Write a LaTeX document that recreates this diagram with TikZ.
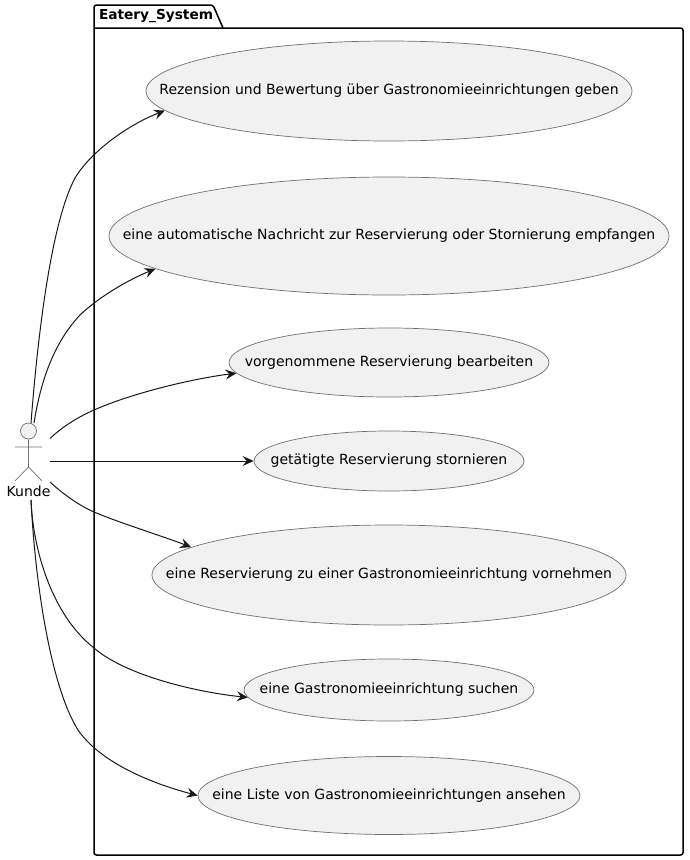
\documentclass[tikz,border=0pt]{standalone}
\usepackage{fontspec}
\setmainfont{DejaVu Sans}
\usetikzlibrary{shapes.geometric,arrows.meta}
\definecolor{umlfill}{HTML}{F1F1F1}
\definecolor{umlline}{HTML}{181818}
\definecolor{umlthin}{HTML}{707070}
\tikzset{
  usecase/.style={ellipse,draw=umlthin,fill=umlfill,line width=0.7pt,inner sep=0pt,font=\fontsize{14}{16}\selectfont,text=black},
  link/.style={draw=umlline,line width=1pt,-{Stealth[length=11pt,width=10pt,inset=4pt]}},
  pkg/.style={draw=black,line width=1.5pt,line join=round},
  stick/.style={draw=umlthin,line width=0.7pt}
}
\newcommand{\ucname}[1]{\makebox[0pt]{#1}}
\begin{document}
\begin{tikzpicture}[x=1pt,y=-1pt]
\useasboundingbox (0,0) rectangle (689,860);
\draw[pkg,rounded corners=2.5pt] (94,28) -- (94,5) -- (213,5) -- (223,28) (94,28) -- (94,855) -- (683,855) -- (683,28) -- (94,28);
\node[anchor=west,font=\fontsize{13.7}{16}\selectfont\bfseries] (pk) at (95.5,16.5) {Eatery\_System};
\node[usecase,minimum width=486pt,minimum height=100pt] (e1) at (389,91) {\ucname{Rezension und Bewertung über Gastronomieeinrichtungen geben}};
\node[usecase,minimum width=560pt,minimum height=118pt] (e2) at (389,236) {\ucname{eine automatische Nachricht zur Reservierung oder Stornierung empfangen}};
\node[usecase,minimum width=320pt,minimum height=69pt] (e3) at (389,362.5) {\ucname{vorgenommene Reservierung bearbeiten}};
\node[usecase,minimum width=270pt,minimum height=60pt] (e4) at (389,461) {\ucname{getätigte Reservierung stornieren}};
\node[usecase,minimum width=474pt,minimum height=100pt] (e5) at (389,575) {\ucname{eine Reservierung zu einer Gastronomieeinrichtung vornehmen}};
\node[usecase,minimum width=290pt,minimum height=62pt] (e6) at (389,690) {\ucname{eine Gastronomieeinrichtung suchen}};
\node[usecase,minimum width=382pt,minimum height=78pt] (e7) at (389,795.5) {\ucname{eine Liste von Gastronomieeinrichtungen ansehen}};
% actor
\node[circle,draw=umlthin,fill=umlfill,line width=0.7pt,minimum size=16pt,inner sep=0pt] (head) at (28.5,431) {};
\coordinate (hip) at (28.5,467);
\coordinate (armL) at (15,447);
\coordinate (armR) at (42,447);
\coordinate (legL) at (15,481);
\coordinate (legR) at (42,481);
\draw[stick] (head.south) -- (hip) (armL) -- (armR) (legL) -- (hip) -- (legR);
\node[font=\fontsize{14}{16}\selectfont] (kunde) at (28.5,491) {Kunde};
% free ends at the actor
\coordinate (a1) at (31,423);
\coordinate (a2) at (34,423);
\coordinate (a3) at (50,438.5);
\coordinate (a4) at (50,461);
\coordinate (a5) at (50,482);
\coordinate (a6) at (31,500);
\coordinate (a7) at (31,500);
% connectors
\draw[link] (a1) .. controls (37,345) and (50,225) .. (75,178) .. controls (92,150) and (130,124) .. (e1.185.1);
\draw[link] (a2) .. controls (40,385) and (52,345) .. (80,315) .. controls (100,296) and (130,279) .. (e2.188.8);
\draw[link] (a3) .. controls (62,427) and (78,417) .. (94,410) .. controls (130,394) and (190,379) .. (e3.184.2);
\draw[link] (a4) -- (e4.180);
\draw[link] (a5) .. controls (62,493) and (78,505) .. (94,512) .. controls (120,523) and (165,537) .. (e5.172);
\draw[link] (a6) .. controls (33,550) and (52,615) .. (94,648) .. controls (125,675) and (195,692) .. (e6.183.4);
\draw[link] (a7) .. controls (35,580) and (50,685) .. (78,730) .. controls (100,762) and (150,783) .. (e7.180);
\end{tikzpicture}
\end{document}
